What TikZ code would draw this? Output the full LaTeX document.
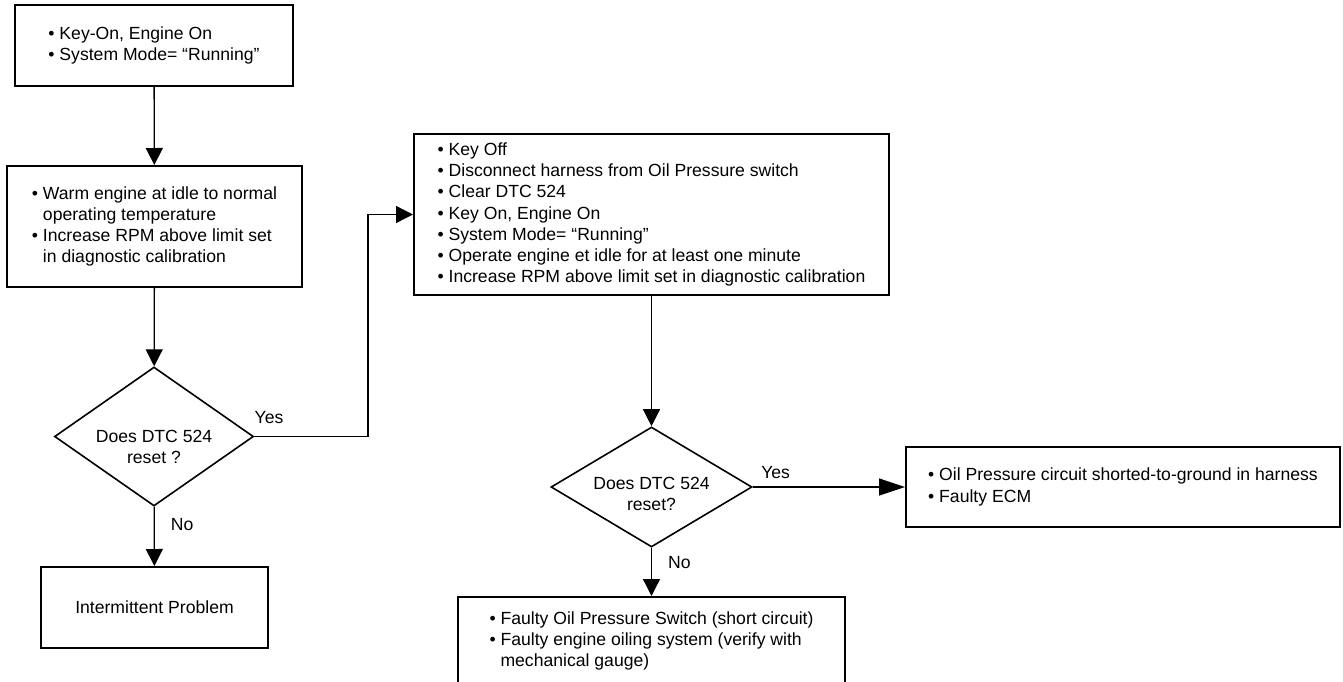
\documentclass[tikz,border=0pt]{standalone}
\usepackage{fontspec}
\setmainfont{Liberation Sans}
\usetikzlibrary{arrows.meta,shapes.geometric,positioning}

\begin{document}
\begin{tikzpicture}[x=0.5pt,y=-0.5pt,
      font=\fontsize{8.8pt}{10.6pt}\selectfont,
      stepbox/.style={draw,line width=1pt,inner sep=0pt,align=left},
      decision/.style={draw,diamond,aspect=1.7,line width=0.8pt,inner sep=0pt,align=center},
      conn/.style={-{Triangle[length=8.5pt,width=8.5pt]},line width=0.65pt},
      lbl/.style={inner sep=1pt}
    ]
      \useasboundingbox (0,0) rectangle (1343,681);

      \node[stepbox,minimum width=139pt,minimum height=40.5pt] (start) at (154,45.5)
        {• Key-On, Engine On\\• System Mode= “Running”};
      \node[stepbox,minimum width=147.5pt,minimum height=60.5pt] (warm) at (154.5,226.5)
        {• Warm engine at idle to normal\\\phantom{•\ }operating temperature\\• Increase RPM above limit set\\\phantom{•\ }in diagnostic calibration};
      \node[decision,aspect=1.45,text height=27pt,minimum width=99.5pt,minimum height=69.5pt] (dtc1) at (154,436.5) {Does DTC 524\\reset ?};
      \node[stepbox,align=center,minimum width=113.5pt,minimum height=40.5pt] (interm) at (154.5,607.5) {Intermittent Problem};

      \node[stepbox,minimum width=237.5pt,minimum height=80.5pt] (retest) at (651.5,214.5)
        {• Key Off\\• Disconnect harness from Oil Pressure switch\\• Clear DTC 524\\• Key On, Engine On\\• System Mode= “Running”\\• Operate engine et idle for at least one minute\\• Increase RPM above limit set in diagnostic calibration};
      \node[decision,text height=24pt,minimum width=100.5pt,minimum height=60pt] (dtc2) at (651.5,487) {Does DTC 524\\reset?};
      \node[stepbox,minimum width=217pt,minimum height=40pt] (shorted) at (1123,487)
        {• Oil Pressure circuit shorted-to-ground in harness\\• Faulty ECM};
      \node[stepbox,minimum width=193.5pt,minimum height=44pt] (switch) at (651.5,641)
        {• Faulty Oil Pressure Switch (short circuit)\\• Faulty engine oiling system (verify with\\\phantom{•\ }mechanical gauge)};

      \coordinate (bend) at (368,436.5);

      \draw[conn] (start) -- (warm);
      \draw[conn] (warm) -- (dtc1);
      \draw[conn] (dtc1) -- node[lbl,pos=0.3,right=7pt]{No} (interm);
      \draw[conn] (dtc1.east) -- node[lbl,pos=0.13,above=5pt]{Yes} (bend) |- (retest.west);
      \draw[conn] (retest) -- (dtc2);
      \draw[conn,-{Triangle[length=13pt,width=8.5pt]}] (dtc2.east) -- node[lbl,pos=0.15,above=3pt]{Yes} (shorted.west);
      \draw[conn] (dtc2) -- node[lbl,pos=0.3,right=7pt]{No} (switch);
    \end{tikzpicture}
\end{document}
